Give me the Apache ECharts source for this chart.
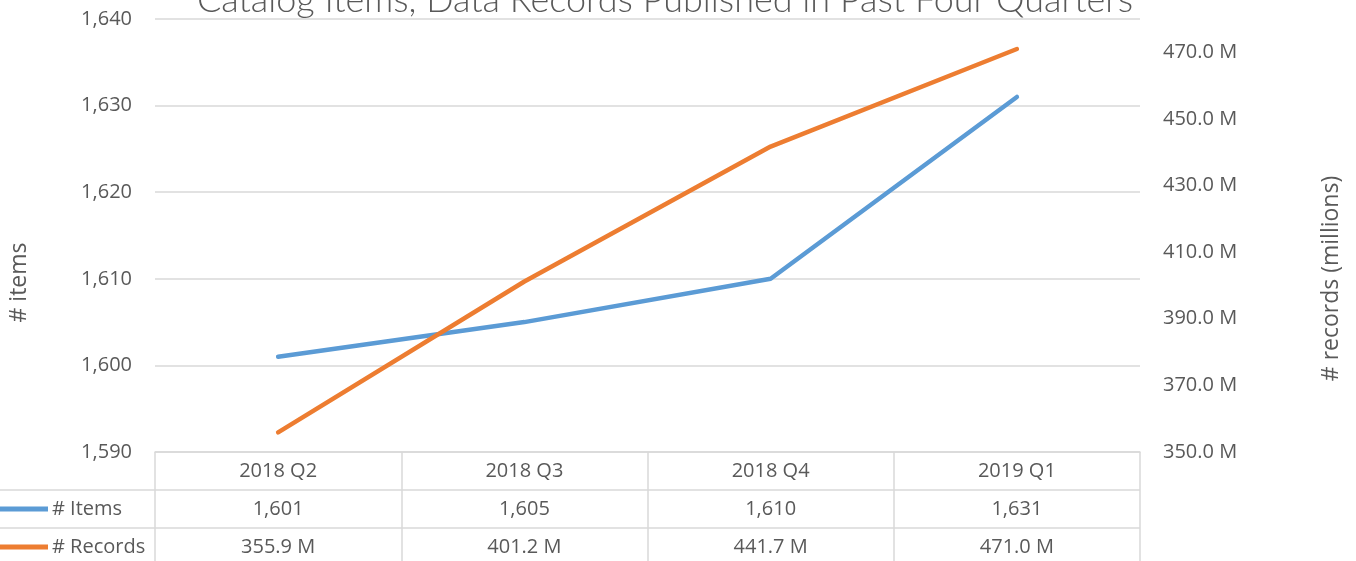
<!DOCTYPE html>
<html>
<head>
<meta charset="utf-8" />
<title>Catalog Items and Data Records</title>
<script src="https://cdn.jsdelivr.net/npm/echarts@6/dist/echarts.min.js"></script>
<style>
  * { margin: 0; padding: 0; }
  #chart-container { width: 1356px; height: 561px; background: #fff; overflow: hidden; }
</style>
</head>
<body>
<div id="chart-container"></div>
<script>
var quarters = ["2018 Q2", "2018 Q3", "2018 Q4", "2019 Q1"];
var items = [1601, 1605, 1610, 1631];
var records = [355.9, 401.2, 441.7, 471.0];

var textColor = "#595959";
var lineColor = "#d9d9d9";
var baseFont = "'Open Sans', 'Noto Sans', sans-serif";

function fmtItems(v) {
  return Number(v).toLocaleString("en-US");
}
function fmtRecords(v) {
  return Number(v).toFixed(1) + " M";
}

var dom = document.getElementById("chart-container");
var myChart = echarts.init(dom, null, { renderer: "canvas" });

var option = {
  animation: false,
  title: {
    text: "Catalog Items, Data Records Published in Past Four Quarters",
    left: 660,
    top: -23,
    textAlign: "center",
    textStyle: {
      fontFamily: "Lato, 'DejaVu Sans', sans-serif",
      fontWeight: 300,
      fontSize: 36,
      color: textColor
    }
  },
  legend: {
    orient: "vertical",
    left: 0,
    top: 497,
    padding: 0,
    itemWidth: 48,
    itemHeight: 5,
    itemGap: 14,
    icon: "rect",
    textStyle: { fontFamily: baseFont, fontSize: 20, lineHeight: 24, color: textColor, padding: [0, 0, 0, -1] },
    data: ["# Items", "# Records"]
  },
  grid: { left: 155, right: 216, top: 19, bottom: 109, containLabel: false, outerBoundsMode: "none" },
  xAxis: {
    type: "category",
    data: quarters,
    boundaryGap: true,
    axisLine: { lineStyle: { color: lineColor, width: 1.5 } },
    axisTick: { show: true, length: 112, lineStyle: { color: lineColor, width: 1.5 } },
    axisLabel: {
      margin: 0,
      lineHeight: 38,
      fontFamily: baseFont,
      fontSize: 20,
      color: textColor,
      formatter: function (v, i) {
        return v + "\n" + fmtItems(items[i]) + "\n" + fmtRecords(records[i]);
      }
    }
  },
  yAxis: [
    {
      type: "value",
      min: 1590,
      max: 1640,
      interval: 10,
      name: "# items",
      nameLocation: "middle",
      nameGap: 124,
      nameTextStyle: { fontFamily: baseFont, fontSize: 23, color: textColor, padding: [0, 94, 0, 0] },
      axisLine: { show: false },
      axisTick: { show: false },
      splitLine: { lineStyle: { color: lineColor, width: 1.5 } },
      axisLabel: {
        margin: 23,
        fontFamily: baseFont,
        fontSize: 20,
        color: textColor,
        formatter: fmtItems
      }
    },
    {
      type: "value",
      min: 350,
      max: 480,
      interval: 20,
      name: "# records (millions)",
      nameLocation: "middle",
      nameGap: 180,
      nameTextStyle: { fontFamily: baseFont, fontSize: 23, color: textColor, padding: [0, 86, 0, 0] },
      axisLine: { show: false },
      axisTick: { show: false },
      splitLine: { show: false },
      axisLabel: {
        margin: 23,
        showMaxLabel: false,
        fontFamily: baseFont,
        fontSize: 20,
        color: textColor,
        formatter: fmtRecords
      }
    }
  ],
  graphic: [
    {
      type: "line",
      shape: { x1: 0, y1: 490, x2: 1140, y2: 490 },
      style: { stroke: lineColor, lineWidth: 1.5 }
    },
    {
      type: "line",
      shape: { x1: 0, y1: 528, x2: 1140, y2: 528 },
      style: { stroke: lineColor, lineWidth: 1.5 }
    }
  ],
  series: [
    {
      name: "# Items",
      type: "line",
      yAxisIndex: 0,
      data: items,
      symbol: "none",
      itemStyle: { color: "#5b9bd5" },
      lineStyle: { color: "#5b9bd5", width: 4.5, cap: "round" }
    },
    {
      name: "# Records",
      type: "line",
      yAxisIndex: 1,
      data: records,
      symbol: "none",
      itemStyle: { color: "#ed7d31" },
      lineStyle: { color: "#ed7d31", width: 4.5, cap: "round" }
    }
  ]
};

myChart.setOption(option);
window.addEventListener("resize", myChart.resize);
</script>
</body>
</html>
